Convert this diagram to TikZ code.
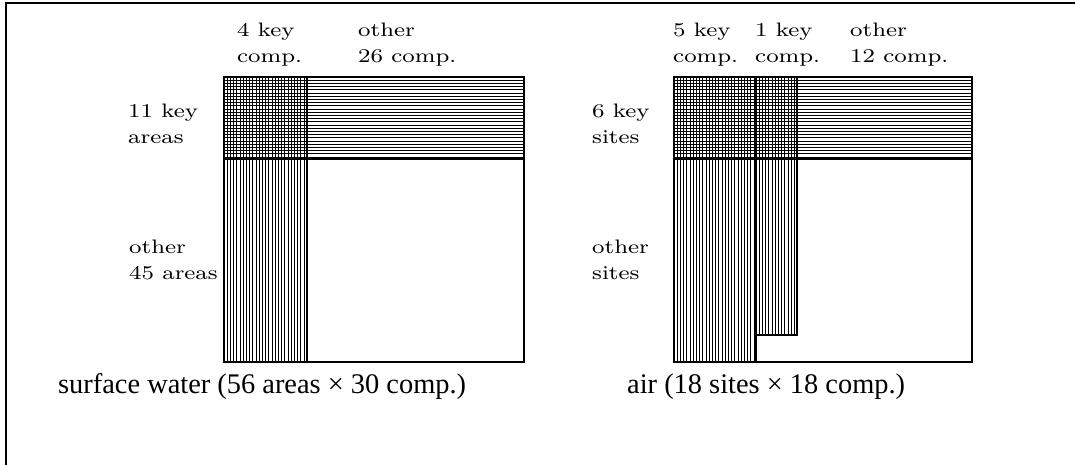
\documentclass[tikz,border=0pt]{standalone}
\usepackage{fontspec}
\newfontfamily\labfont{lmroman8-regular.otf}[FakeStretch=1.2]
\newfontfamily\capfont{Liberation Serif}
\tikzset{
  frameline/.style={line width=2pt},
  box/.style={draw, line width=2pt},
  hatch/.style={line width=0.8pt},
  lab/.style={font=\labfont\fontsize{19.5}{26}\selectfont, inner sep=0pt, anchor=base west},
  captext/.style={font=\capfont\fontsize{28.4}{32}\selectfont, inner sep=0pt, anchor=base west},
}
\newcommand{\twolines}[2]{\begin{tabular}[t]{@{}l@{}}#1\\#2\end{tabular}}
\begin{document}
\begin{tikzpicture}[x=1pt,y=-1pt]
\useasboundingbox (0,0) rectangle (1075,465);
% outer frame (only left and top visible)
\draw[frameline] (6,465) -- (6,3) -- (1075,3);

% ---------- surface water chart ----------
\foreach \y in {80.2,83.4,...,157} \draw[hatch] (224,\y) -- (524,\y);
\foreach \x in {227.2,230.4,...,305} \draw[hatch] (\x,77) -- (\x,362);
\draw[box] (224,77) rectangle (524,362);
\draw[box] (224,159) -- (524,159);
\draw[box] (307,77) -- (307,362);

\node[lab] (sw4) at (237,36.5) {\twolines{4 key}{comp.}};
\node[lab] (sw26) at (358,36.5) {\twolines{other}{26 comp.}};
\node[lab] (sw11) at (128,118) {\twolines{11 key}{areas}};
\node[lab] (sw45) at (129,253) {\twolines{other}{45 areas}};
\node[captext] (swcap) at (58,393) {surface water (56 areas × 30 comp.)};

% ---------- air chart ----------
\foreach \y in {80.2,83.4,...,157} \draw[hatch] (674,\y) -- (972,\y);
\foreach \x in {677.2,680.4,...,754} \draw[hatch] (\x,77) -- (\x,362);
\foreach \x in {759.2,762.4,...,795} \draw[hatch] (\x,77) -- (\x,335);
\draw[box] (674,77) rectangle (972,159);
\draw[box] (674,77) rectangle (756,362);
\draw[box] (756,77) rectangle (797,335);
\draw[box] (972,159) -- (972,362) -- (756,362);

\node[lab] (a5) at (673,36.5) {\twolines{5 key}{comp.}};
\node[lab] (a1) at (755,36.5) {\twolines{1 key}{comp.}};
\node[lab] (a12) at (850,36.5) {\twolines{other}{12 comp.}};
\node[lab] (a6) at (592,118) {\twolines{6 key}{sites}};
\node[lab] (aoth) at (592,253) {\twolines{other}{sites}};
\node[captext] (acap) at (627,393) {air (18 sites × 18 comp.)};
\end{tikzpicture}
\end{document}
